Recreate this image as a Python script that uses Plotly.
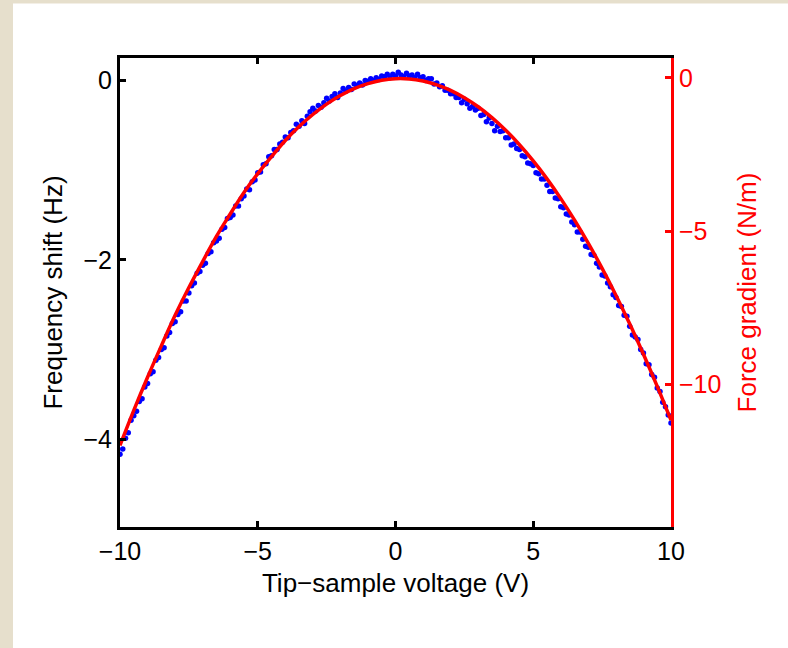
import plotly.graph_objects as go

# ---- data ----
voltage = [
    -10.0, -9.9, -9.8, -9.7, -9.6, -9.5, -9.4, -9.3, -9.2, -9.1,
    -9.0, -8.9, -8.8, -8.7, -8.6, -8.5, -8.4, -8.3, -8.2, -8.1,
    -8.0, -7.9, -7.8, -7.7, -7.6, -7.5, -7.4, -7.3, -7.2, -7.1,
    -7.0, -6.9, -6.8, -6.7, -6.6, -6.5, -6.4, -6.3, -6.2, -6.1,
    -6.0, -5.9, -5.8, -5.7, -5.6, -5.5, -5.4, -5.3, -5.2, -5.1,
    -5.0, -4.9, -4.8, -4.7, -4.6, -4.5, -4.4, -4.3, -4.2, -4.1,
    -4.0, -3.9, -3.8, -3.7, -3.6, -3.5, -3.4, -3.3, -3.2, -3.1,
    -3.0, -2.9, -2.8, -2.7, -2.6, -2.5, -2.4, -2.3, -2.2, -2.1,
    -2.0, -1.9, -1.8, -1.7, -1.6, -1.5, -1.4, -1.3, -1.2, -1.1,
    -1.0, -0.9, -0.8, -0.7, -0.6, -0.5, -0.4, -0.3, -0.2, -0.1,
    0.0, 0.1, 0.2, 0.3, 0.4, 0.5, 0.6, 0.7, 0.8, 0.9,
    1.0, 1.1, 1.2, 1.3, 1.4, 1.5, 1.6, 1.7, 1.8, 1.9,
    2.0, 2.1, 2.2, 2.3, 2.4, 2.5, 2.6, 2.7, 2.8, 2.9,
    3.0, 3.1, 3.2, 3.3, 3.4, 3.5, 3.6, 3.7, 3.8, 3.9,
    4.0, 4.1, 4.2, 4.3, 4.4, 4.5, 4.6, 4.7, 4.8, 4.9,
    5.0, 5.1, 5.2, 5.3, 5.4, 5.5, 5.6, 5.7, 5.8, 5.9,
    6.0, 6.1, 6.2, 6.3, 6.4, 6.5, 6.6, 6.7, 6.8, 6.9,
    7.0, 7.1, 7.2, 7.3, 7.4, 7.5, 7.6, 7.7, 7.8, 7.9,
    8.0, 8.1, 8.2, 8.3, 8.4, 8.5, 8.6, 8.7, 8.8, 8.9,
    9.0, 9.1, 9.2, 9.3, 9.4, 9.5, 9.6, 9.7, 9.8, 9.9,
    10.0,
]

freq_shift = [
    -4.17, -4.11, -3.99, -3.93, -3.79, -3.74, -3.69, -3.58, -3.55, -3.42,
    -3.38, -3.27, -3.25, -3.12, -3.09, -3.00, -2.98, -2.85, -2.81, -2.71,
    -2.69, -2.61, -2.58, -2.46, -2.46, -2.37, -2.29, -2.26, -2.15, -2.13,
    -2.06, -2.04, -1.93, -1.91, -1.81, -1.79, -1.76, -1.66, -1.64, -1.54,
    -1.53, -1.50, -1.40, -1.40, -1.32, -1.29, -1.21, -1.22, -1.13, -1.11,
    -1.03, -1.02, -0.94, -0.93, -0.85, -0.84, -0.77, -0.77, -0.71, -0.69,
    -0.63, -0.64, -0.58, -0.56, -0.49, -0.51, -0.45, -0.48, -0.40, -0.35,
    -0.31, -0.34, -0.28, -0.30, -0.25, -0.20, -0.23, -0.18, -0.15, -0.19,
    -0.14, -0.09, -0.12, -0.08, -0.10, -0.04, -0.06, -0.03, -0.05, 0.00,
    -0.01, 0.02, 0.00, 0.03, 0.01, 0.05, 0.04, 0.07, 0.03, 0.07,
    0.05, 0.09, 0.06, 0.04, 0.08, 0.05, 0.06, 0.03, 0.07, 0.03,
    0.04, 0.00, 0.02, 0.02, -0.04, -0.03, -0.07, -0.06, -0.11, -0.11,
    -0.15, -0.15, -0.19, -0.19, -0.25, -0.21, -0.26, -0.31, -0.29, -0.33,
    -0.31, -0.39, -0.38, -0.46, -0.42, -0.48, -0.56, -0.51, -0.57, -0.56,
    -0.64, -0.64, -0.72, -0.71, -0.76, -0.77, -0.84, -0.85, -0.92, -0.93,
    -0.95, -1.03, -1.04, -1.10, -1.10, -1.17, -1.24, -1.24, -1.31, -1.32,
    -1.41, -1.42, -1.49, -1.50, -1.58, -1.61, -1.69, -1.69, -1.77, -1.85,
    -1.86, -1.94, -1.95, -2.04, -2.08, -2.17, -2.18, -2.26, -2.30, -2.39,
    -2.42, -2.51, -2.52, -2.62, -2.63, -2.74, -2.84, -2.86, -2.89, -3.00,
    -3.04, -3.16, -3.17, -3.28, -3.31, -3.43, -3.47, -3.59, -3.64, -3.73,
    -3.82,
]

fit_voltage = [
    -10.0, -9.5, -9.0, -8.5, -8.0, -7.5, -7.0, -6.5, -6.0, -5.5,
    -5.0, -4.5, -4.0, -3.5, -3.0, -2.5, -2.0, -1.5, -1.0, -0.5,
    0.0, 0.5, 1.0, 1.5, 2.0, 2.5, 3.0, 3.5, 4.0, 4.5,
    5.0, 5.5, 6.0, 6.5, 7.0, 7.5, 8.0, 8.5, 9.0, 9.5,
    10.0,
]

fit_shift = [
    -4.07, -3.68, -3.31, -2.96, -2.62, -2.31, -2.02, -1.74, -1.49, -1.25,
    -1.04, -0.85, -0.67, -0.515, -0.38, -0.264, -0.168, -0.091, -0.035, 0.002,
    0.019, 0.016, -0.007, -0.049, -0.111, -0.193, -0.294, -0.415, -0.556, -0.717,
    -0.898, -1.098, -1.318, -1.558, -1.817, -2.096, -2.395, -2.714, -3.053, -3.411,
    -3.789,
]

x_ticks = [-10, -5, 0, 5, 10]
left_ticks = [0, -2, -4]
right_ticks = [0, -5, -10]

FONT = "Liberation Sans, Arial, Helvetica, sans-serif"
BEIGE = "#E6DFCC"
TICK_SIZE = 25
TITLE_SIZE = 26

fig = go.Figure()

fig.add_trace(go.Scatter(
    x=voltage, y=freq_shift, mode="markers",
    marker=dict(color="#0000FF", size=5.5, line=dict(width=0)),
    showlegend=False, hoverinfo="skip",
))

fig.add_trace(go.Scatter(
    x=fit_voltage, y=fit_shift, mode="lines",
    line=dict(color="#FF0000", width=3.5, shape="spline"),
    showlegend=False, hoverinfo="skip",
))

# invisible trace to activate the right axis
fig.add_trace(go.Scatter(
    x=[fit_voltage[0]], y=[right_ticks[0]], mode="markers",
    marker=dict(opacity=0), yaxis="y2", showlegend=False, hoverinfo="skip",
))

fig.update_layout(
    width=788, height=648,
    paper_bgcolor=BEIGE,
    plot_bgcolor="white",
    margin=dict(l=120, r=117, t=58, b=121),
    font=dict(family=FONT, size=TICK_SIZE, color="black"),
    xaxis=dict(
        range=[-10, 10],
        tickvals=x_ticks,
        ticks="inside", ticklen=6, tickwidth=3, tickcolor="black",
        showline=True, linecolor="black", linewidth=3,
        mirror="ticks",
        showgrid=False, zeroline=False,
        tickfont=dict(size=TICK_SIZE, color="black"),
        title=dict(text="Tip\u2212sample voltage (V)", font=dict(size=TITLE_SIZE, color="black"), standoff=10),
    ),
    yaxis=dict(
        range=[-4.98, 0.25],
        tickvals=left_ticks,
        ticks="inside", ticklen=6, tickwidth=3, tickcolor="black",
        showline=True, linecolor="black", linewidth=3,
        showgrid=False, zeroline=False,
        tickfont=dict(size=TICK_SIZE, color="black"),
        title=dict(text="Frequency shift (Hz)", font=dict(size=TITLE_SIZE, color="black"), standoff=14),
    ),
    yaxis2=dict(
        range=[-14.65, 0.65],
        tickvals=right_ticks,
        overlaying="y", side="right",
        ticks="inside", ticklen=6, tickwidth=3, tickcolor="#FF0000",
        showline=True, linecolor="#FF0000", linewidth=3,
        showgrid=False, zeroline=False,
        tickfont=dict(size=TICK_SIZE, color="#FF0000"),
        title=dict(text="Force gradient (N/m)", font=dict(size=TITLE_SIZE, color="#FF0000"), standoff=18),
    ),
    shapes=[
        dict(type="rect", xref="paper", yref="paper",
             x0=-0.1942, x1=1.3, y0=-0.4, y1=1.1163,
             fillcolor="white", line=dict(width=0), layer="below"),
    ],
)

fig.write_html(
    "out.html",
    config={"displayModeBar": False},
    post_script="document.body.style.margin='0';document.body.style.overflow='hidden';",
)
